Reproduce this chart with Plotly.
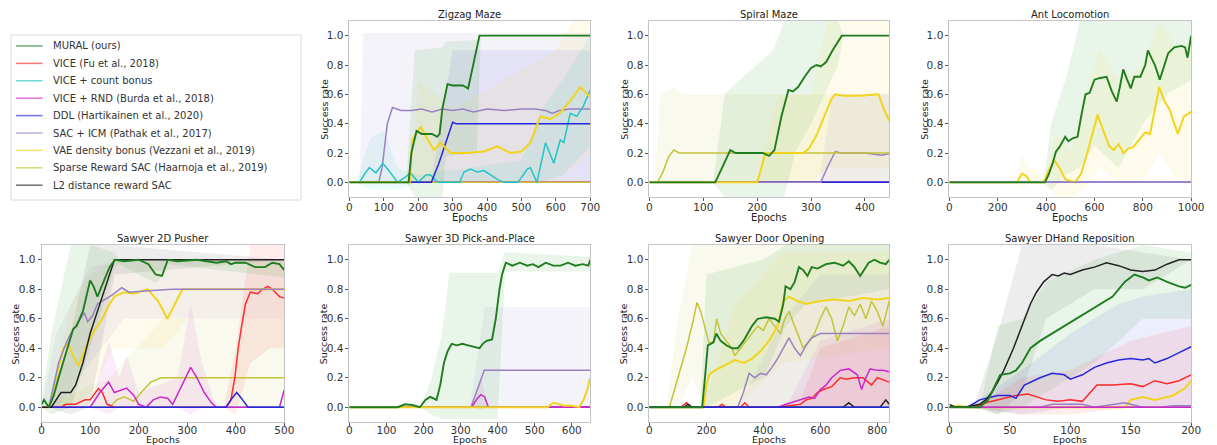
import plotly.graph_objects as go

# ---------------- series names / styles ----------------
series_names = ["MURAL (ours)", "VICE (Fu et al., 2018)", "VICE + count bonus",
                "VICE + RND (Burda et al., 2018)", "DDL (Hartikainen et al., 2020)",
                "SAC + ICM (Pathak et al., 2017)", "VAE density bonus (Vezzani et al., 2019)",
                "Sparse Reward SAC (Haarnoja et al., 2019)", "L2 distance reward SAC"]
series_keys = ["mural", "vice", "count", "rnd", "ddl", "icm", "vae", "sparse", "l2"]
line_colors = {"mural": "#1e7d1e", "vice": "#ff2a2a", "count": "#22c4c4", "rnd": "#cc26cc",
               "ddl": "#2626dd", "icm": "#9a80c2", "vae": "#f2d41c", "sparse": "#c4c43a",
               "l2": "#222222"}
band_colors = {"mural": "#2ca02c", "vice": "#ff4040", "count": "#30d0d0", "rnd": "#d040d0",
               "ddl": "#5050e0", "icm": "#a08cd0", "vae": "#f5dc40", "sparse": "#c8c850",
               "l2": "#505050"}
line_widths = {"mural": 1.9, "vae": 2.0}

panel_titles = ["Zigzag Maze", "Spiral Maze", "Ant Locomotion", "Sawyer 2D Pusher",
                "Sawyer 3D Pick-and-Place", "Sawyer Door Opening", "Sawyer DHand Reposition"]
x_ticks = [[0, 100, 200, 300, 400, 500, 600, 700], [0, 100, 200, 300, 400],
           [0, 200, 400, 600, 800, 1000], [0, 100, 200, 300, 400, 500],
           [0, 100, 200, 300, 400, 500, 600], [0, 200, 400, 600, 800], [0, 50, 100, 150, 200]]
x_max = [700, 445, 1000, 500, 650, 842, 200]
y_ticks = [0.0, 0.2, 0.4, 0.6, 0.8, 1.0]
x_label = "Epochs"
y_label = "Success rate"

# ---------------- Zigzag Maze ----------------
zz_vice_x = [0, 700]; zz_vice_y = [0, 0]
zz_rnd_x = [0, 700]; zz_rnd_y = [0, 0]
zz_count_x = [0, 29, 45, 58, 77, 97, 116, 140, 159, 178, 200, 222, 236, 256, 320, 333, 352, 372, 391,
              430, 449, 490, 517, 526, 545, 570, 594, 613, 623, 642, 661, 680, 700]
zz_count_y = [0, 0, 0.06, 0.1, 0.064, 0.13, 0.075, 0.0, 0.03, 0.064, 0.0, 0.05, 0.05, 0.0, 0.0, 0.07,
              0.09, 0.07, 0.08, 0.02, 0.0, 0.0, 0.09, 0.1, 0.0, 0.27, 0.13, 0.29, 0.27, 0.47, 0.45, 0.52, 0.63]
zz_ddl_x = [0, 238, 260, 280, 300, 310, 700]; zz_ddl_y = [0, 0, 0.13, 0.27, 0.41, 0.40, 0.40]
zz_icm_x = [0, 85, 95, 110, 125, 135, 150, 180, 210, 240, 270, 300, 330, 360, 400, 450, 500, 540, 570,
            590, 610, 640, 700]
zz_icm_y = [0, 0, 0.1, 0.4, 0.51, 0.50, 0.49, 0.49, 0.50, 0.48, 0.50, 0.49, 0.50, 0.48, 0.50, 0.49,
            0.50, 0.50, 0.49, 0.47, 0.49, 0.50, 0.50]
zz_vae_x = [0, 175, 183, 207, 225, 246, 265, 294, 340, 391, 430, 468, 500, 526, 555, 584, 610, 640, 671, 700]
zz_vae_y = [0, 0, 0.29, 0.38, 0.3, 0.22, 0.27, 0.2, 0.2, 0.21, 0.245, 0.2, 0.21, 0.27, 0.45, 0.43, 0.47,
            0.55, 0.65, 0.58]
zz_sparse_x = [0, 700]; zz_sparse_y = [0, 0]
zz_mural_x = [0, 172, 180, 195, 210, 240, 255, 262, 270, 285, 300, 330, 345, 355, 378, 700]
zz_mural_y = [0, 0, 0.2, 0.35, 0.33, 0.33, 0.31, 0.33, 0.5, 0.67, 0.66, 0.66, 0.64, 0.75, 1.0, 1.0]
# bands
zz_icm_bx = [0, 30, 40, 700]; zz_icm_lo = [0, 0, 0, 0]; zz_icm_hi = [0, 0, 1.02, 1.02]
zz_mural_bx = [165, 190, 270, 280, 370, 382, 700]
zz_mural_lo = [0, -0.1, -0.1, 0.18, 0.2, 1.0, 1.0]; zz_mural_hi = [0, 0.9, 0.92, 0.96, 0.97, 1.0, 1.0]
zz_ddl_bx = [238, 300, 700]; zz_ddl_lo = [0, 0, 0]; zz_ddl_hi = [0, 0.9, 0.9]
zz_vae_bx = [178, 200, 300, 600, 650, 700]
zz_vae_lo = [0, 0, 0, 0, 0.1, 0.2]; zz_vae_hi = [0, 0.7, 0.5, 0.9, 1.1, 1.1]
zz_count_bx = [20, 60, 100, 140, 200, 500, 560, 620, 700]
zz_count_lo = [0, -0.05, -0.05, -0.05, 0, 0, 0, 0.05, 0.25]
zz_count_hi = [0, 0.3, 0.35, 0.1, 0.05, 0.15, 0.5, 0.7, 1.0]

# ---------------- Spiral Maze ----------------
sp_vice_x = [0, 445]; sp_vice_y = [0, 0]
sp_count_x = [0, 445]; sp_count_y = [0, 0]
sp_rnd_x = [0, 445]; sp_rnd_y = [0, 0]
sp_ddl_x = [0, 445]; sp_ddl_y = [0, 0]
sp_icm_x = [0, 318, 330, 345, 355, 400, 430, 445]; sp_icm_y = [0, 0, 0.1, 0.21, 0.2, 0.2, 0.185, 0.195]
sp_sparse_x = [0, 15, 25, 35, 45, 55, 445]; sp_sparse_y = [0, 0, 0.07, 0.17, 0.22, 0.2, 0.2]
sp_vae_x = [0, 200, 208, 215, 285, 296, 310, 325, 338, 345, 360, 390, 425, 435, 445]
sp_vae_y = [0, 0, 0.1, 0.2, 0.2, 0.23, 0.32, 0.46, 0.57, 0.6, 0.59, 0.59, 0.6, 0.5, 0.42]
sp_mural_x = [0, 122, 135, 150, 160, 210, 222, 232, 245, 258, 266, 276, 288, 300, 310, 318, 328, 340, 357, 445]
sp_mural_y = [0, 0, 0.1, 0.22, 0.2, 0.2, 0.18, 0.22, 0.45, 0.63, 0.62, 0.65, 0.72, 0.78, 0.8, 0.79, 0.82,
              0.9, 1.0, 1.0]
sp_sparse_bx = [10, 20, 45, 60, 445]; sp_sparse_lo = [0, 0, 0, 0, 0]; sp_sparse_hi = [0, 0.6, 0.65, 0.6, 0.6]
sp_mural_bx = [118, 140, 153, 230, 250, 270, 300, 350, 360, 445]
sp_mural_lo = [0, -0.1, -0.1, -0.1, -0.1, 0.2, 0.4, 0.8, 1.0, 1.0]
sp_mural_hi = [0, 0.6, 0.65, 0.9, 1.1, 1.1, 1.1, 1.1, 1.0, 1.0]
sp_vae_bx = [198, 240, 300, 330, 445]; sp_vae_lo = [0, 0, 0, 0.1, 0.1]; sp_vae_hi = [0, 0.6, 0.6, 1.1, 1.1]
sp_icm_bx = [315, 340, 445]; sp_icm_lo = [0, 0, 0]; sp_icm_hi = [0, 0.6, 0.6]

# ---------------- Ant Locomotion ----------------
an_ddl_x = [0, 1000]; an_ddl_y = [0, 0]
an_icm_x = [0, 1000]; an_icm_y = [0, 0]
an_vae_x = [0, 280, 300, 320, 335, 390, 410, 434, 455, 480, 520, 545, 570, 595, 613, 635, 660, 680, 700,
            720, 740, 760, 790, 810, 830, 850, 868, 890, 910, 930, 945, 970, 1000]
an_vae_y = [0, 0, 0.06, 0.04, 0, 0, 0.08, 0.15, 0.1, 0.02, 0, 0.06, 0.2, 0.35, 0.46, 0.36, 0.25, 0.22,
            0.26, 0.2, 0.23, 0.24, 0.3, 0.34, 0.33, 0.5, 0.65, 0.55, 0.5, 0.4, 0.33, 0.45, 0.48]
an_mural_x = [0, 395, 410, 425, 441, 455, 479, 492, 510, 530, 545, 563, 580, 600, 620, 650, 672, 692, 705,
              719, 735, 750, 765, 790, 810, 821, 835, 850, 870, 885, 905, 930, 960, 975, 985, 1000]
an_mural_y = [0, 0, 0.05, 0.12, 0.21, 0.24, 0.31, 0.28, 0.3, 0.31, 0.45, 0.6, 0.61, 0.7, 0.71, 0.72, 0.62,
              0.55, 0.65, 0.77, 0.7, 0.64, 0.72, 0.72, 0.8, 0.9, 0.85, 0.8, 0.7, 0.78, 0.88, 0.92, 0.93,
              0.92, 0.85, 1.0]
an_mural_bx = [390, 420, 480, 540, 600, 700, 800, 900, 1000]
an_mural_lo = [0, -0.05, 0.05, 0.1, 0.25, 0.1, 0.4, 0.6, 0.7]
an_mural_hi = [0, 0.4, 0.7, 1.1, 1.1, 1.1, 1.1, 1.1, 1.1]
an_vae_bx = [270, 300, 330, 400, 440, 500, 560, 620, 700, 800, 870, 950, 1000]
an_vae_lo = [0, -0.05, 0, 0, -0.1, -0.1, -0.05, 0.1, 0, 0, 0.2, 0, 0]
an_vae_hi = [0, 0.18, 0.1, 0.05, 0.35, 0.2, 0.6, 0.9, 0.7, 0.8, 1.1, 0.9, 1.0]

# ---------------- Sawyer 2D Pusher ----------------
pu_count_x = [0, 500]; pu_count_y = [0, 0]
pu_sparse_x = [0, 140, 155, 170, 190, 205, 225, 246, 270, 500]
pu_sparse_y = [0, 0, 0.05, 0.07, 0.04, 0.1, 0.17, 0.2, 0.2, 0.2]
pu_vice_x = [0, 40, 50, 70, 90, 100, 117, 125, 135, 150, 380, 390, 398, 405, 412, 420, 430, 445, 455, 466,
             475, 490, 500]
pu_vice_y = [0, 0, 0.02, 0.02, 0.05, 0.05, 0.126, 0.1, 0.02, 0, 0, 0.05, 0.2, 0.4, 0.55, 0.7, 0.78, 0.77,
             0.8, 0.82, 0.8, 0.75, 0.74]
pu_rnd_x = [0, 100, 120, 138, 150, 165, 175, 190, 200, 215, 230, 245, 260, 270, 290, 307, 320, 335, 350,
            360, 490, 500]
pu_rnd_y = [0, 0, 0.1, 0.17, 0.1, 0.12, 0.13, 0.08, 0.02, 0.0, 0.05, 0.07, 0.06, 0.02, 0.15, 0.27, 0.2,
            0.1, 0.03, 0, 0, 0.12]
pu_ddl_x = [0, 380, 392, 402, 412, 425, 500]; pu_ddl_y = [0, 0, 0.06, 0.1, 0.06, 0, 0]
pu_vae_x = [0, 15, 30, 45, 55, 65, 76, 90, 105, 115, 125, 140, 150, 170, 190, 218, 240, 259, 275, 290, 500]
pu_vae_y = [0, 0, 0.2, 0.4, 0.43, 0.35, 0.28, 0.4, 0.5, 0.55, 0.6, 0.7, 0.75, 0.78, 0.77, 0.8, 0.72, 0.6,
            0.7, 0.8, 0.8]
pu_icm_x = [0, 15, 25, 35, 50, 60, 72, 88, 95, 105, 115, 130, 145, 165, 180, 220, 270, 500]
pu_icm_y = [0, 0, 0.15, 0.3, 0.43, 0.5, 0.56, 0.64, 0.58, 0.62, 0.7, 0.73, 0.76, 0.81, 0.78, 0.79, 0.8, 0.8]
pu_l2_x = [0, 20, 30, 40, 60, 70, 85, 100, 115, 135, 150, 500]
pu_l2_y = [0, 0, 0.05, 0.1, 0.1, 0.15, 0.3, 0.5, 0.65, 0.85, 1.0, 1.0]
pu_mural_x = [0, 5, 15, 25, 35, 49, 58, 65, 72, 85, 100, 107, 115, 128, 140, 151, 170, 200, 220, 235, 248,
              260, 280, 320, 360, 380, 390, 400, 420, 440, 460, 475, 490, 500]
pu_mural_y = [0.02, 0.05, 0, 0.08, 0.2, 0.35, 0.45, 0.53, 0.55, 0.65, 0.86, 0.82, 0.75, 0.85, 0.95, 1.0,
              0.99, 1.0, 0.97, 0.9, 0.89, 1.0, 0.99, 1.0, 0.98, 0.99, 0.97, 0.98, 0.98, 0.95, 0.95, 0.98,
              0.97, 0.93]
pu_sparse_bx = [0, 140, 250, 500]; pu_sparse_lo = [0, 0, 0, 0]; pu_sparse_hi = [0, 0.2, 0.6, 0.6]
pu_vae_bx = [15, 60, 100, 150, 250, 300, 500]
pu_vae_lo = [0, 0, 0.1, 0.4, 0.4, 0.6, 0.6]; pu_vae_hi = [0, 0.7, 0.9, 1.0, 1.0, 1.0, 1.0]
pu_icm_bx = [0, 30, 100, 170, 500]; pu_icm_lo = [0, 0, 0.3, 0.6, 0.6]; pu_icm_hi = [0, 0.5, 0.95, 1.0, 1.0]
pu_rnd_bx = [100, 138, 160, 175, 200, 280, 307, 330, 360]
pu_rnd_lo = [0, -0.05, 0, 0, 0, 0, -0.05, 0, 0]; pu_rnd_hi = [0, 0.45, 0.2, 0.35, 0.1, 0.2, 0.7, 0.3, 0]
pu_vice_bx = [375, 400, 430, 470, 500]; pu_vice_lo = [0, -0.05, 0.3, 0.4, 0.4]; pu_vice_hi = [0, 0.4, 1.1, 1.1, 1.1]
pu_l2_bx = [15, 60, 100, 150, 500]; pu_l2_lo = [0, -0.05, 0, 0.9, 1.0]; pu_l2_hi = [0, 0.5, 1.1, 1.1, 1.0]
pu_mural_bx = [0, 20, 60, 100, 150, 160, 230, 240, 260, 500]
pu_mural_lo = [0, -0.05, 0, 0.4, 0.95, 0.97, 0.85, 0.85, 0.97, 0.88]
pu_mural_hi = [0.05, 0.5, 1.1, 1.1, 1.05, 1.0, 1.0, 1.0, 1.0, 1.0]

# ---------------- Sawyer 3D Pick-and-Place ----------------
pp_vice_x = [0, 650]; pp_vice_y = [0, 0]
pp_ddl_x = [0, 650]; pp_ddl_y = [0, 0]
pp_icm_x = [0, 328, 364, 650]; pp_icm_y = [0, 0, 0.25, 0.25]
pp_rnd_x = [0, 330, 345, 355, 365, 375, 650]; pp_rnd_y = [0, 0, 0.06, 0.085, 0.07, 0, 0]
pp_vae_x = [0, 535, 550, 565, 580, 600, 620, 632, 642, 650]
pp_vae_y = [0, 0, 0.03, 0.02, 0.01, 0.01, 0, 0.05, 0.12, 0.2]
pp_mural_x = [0, 130, 150, 170, 190, 205, 218, 235, 245, 255, 265, 276, 290, 305, 320, 340, 351, 360, 370,
              385, 395, 405, 412, 422, 440, 460, 480, 495, 510, 530, 550, 570, 590, 610, 630, 645, 650]
pp_mural_y = [0, 0, 0.02, 0.015, 0, 0.05, 0.07, 0.05, 0.15, 0.3, 0.38, 0.43, 0.42, 0.43, 0.42, 0.41, 0.4,
              0.43, 0.45, 0.46, 0.6, 0.8, 0.9, 0.98, 0.96, 0.98, 0.96, 0.97, 0.95, 0.98, 0.96, 0.96, 0.98,
              0.96, 0.97, 0.96, 1.0]
pp_icm_bx = [325, 365, 650]; pp_icm_lo = [0, 0, 0]; pp_icm_hi = [0, 0.68, 0.68]
pp_rnd_bx = [330, 355, 375]; pp_rnd_lo = [0, -0.02, 0]; pp_rnd_hi = [0, 0.2, 0]
pp_mural_bx = [190, 220, 250, 270, 400, 420, 650]
pp_mural_lo = [0, -0.05, -0.08, -0.08, -0.08, 0.92, 0.92]
pp_mural_hi = [0, 0.18, 0.5, 0.91, 0.91, 1.05, 1.02]

# ---------------- Sawyer Door Opening ----------------
do_count_x = [0, 842]; do_count_y = [0, 0]
do_sparse_x = [0, 70, 100, 130, 155, 167, 180, 200, 210, 225, 236, 250, 270, 290, 300, 320, 340, 360, 380,
               400, 420, 440, 460, 475, 490, 510, 540, 560, 580, 600, 620, 640, 660, 680, 700, 720, 740,
               760, 780, 800, 820, 842]
do_sparse_y = [0, 0, 0.2, 0.4, 0.6, 0.71, 0.65, 0.5, 0.43, 0.45, 0.6, 0.5, 0.45, 0.4, 0.35, 0.4, 0.45, 0.5,
               0.55, 0.52, 0.6, 0.55, 0.5, 0.6, 0.65, 0.55, 0.4, 0.45, 0.5, 0.6, 0.68, 0.6, 0.45, 0.55,
               0.68, 0.62, 0.7, 0.6, 0.72, 0.65, 0.55, 0.72]
do_vae_x = [0, 190, 200, 210, 230, 260, 300, 330, 360, 390, 420, 450, 470, 490, 520, 550, 600, 650, 700,
            750, 800, 842]
do_vae_y = [0, 0, 0.15, 0.22, 0.25, 0.28, 0.32, 0.3, 0.33, 0.38, 0.45, 0.55, 0.72, 0.75, 0.72, 0.7, 0.72,
            0.73, 0.72, 0.74, 0.73, 0.74]
do_icm_x = [0, 310, 330, 350, 370, 390, 410, 430, 450, 470, 490, 510, 530, 550, 570, 600, 842]
do_icm_y = [0, 0, 0.1, 0.23, 0.2, 0.23, 0.22, 0.27, 0.33, 0.4, 0.47, 0.4, 0.35, 0.42, 0.47, 0.5, 0.5]
do_vice_x = [0, 110, 130, 150, 240, 255, 270, 320, 335, 350, 450, 530, 550, 570, 590, 610, 640, 670, 690,
             720, 750, 780, 800, 830, 842]
do_vice_y = [0, 0, 0.03, 0, 0, 0.02, 0, 0, 0.03, 0, 0, 0.02, 0.05, 0.06, 0.1, 0.12, 0.14, 0.2, 0.19, 0.2,
             0.2, 0.15, 0.2, 0.18, 0.17]
do_rnd_x = [0, 450, 480, 530, 560, 580, 600, 620, 640, 670, 700, 730, 745, 760, 775, 800, 820, 842]
do_rnd_y = [0, 0, 0.02, 0.05, 0.07, 0.06, 0.12, 0.15, 0.2, 0.25, 0.26, 0.22, 0.12, 0.2, 0.26, 0.25, 0.25, 0.24]
do_ddl_x = [0, 842]; do_ddl_y = [0, 0]
do_l2_x = [0, 120, 135, 150, 680, 700, 720, 810, 830, 842]; do_l2_y = [0, 0, 0.02, 0, 0, 0.03, 0, 0, 0.05, 0.02]
do_mural_x = [0, 185, 195, 205, 215, 225, 235, 250, 270, 290, 310, 330, 345, 360, 380, 410, 440, 455, 470,
              478, 495, 510, 525, 540, 555, 570, 590, 620, 650, 680, 700, 720, 740, 755, 770, 790, 810,
              830, 842]
do_mural_y = [0, 0, 0.2, 0.42, 0.43, 0.44, 0.5, 0.45, 0.42, 0.4, 0.4, 0.45, 0.5, 0.55, 0.6, 0.61, 0.6,
              0.58, 0.7, 0.82, 0.8, 0.85, 0.95, 0.93, 0.89, 0.95, 0.94, 0.97, 0.98, 0.96, 0.99, 0.95, 0.89,
              0.94, 0.98, 1.0, 0.98, 0.97, 1.0]
do_sparse_bx = [60, 100, 150, 200, 842]; do_sparse_lo = [0, 0, 0.2, 0, 0]; do_sparse_hi = [0, 0.6, 1.1, 1.1, 1.1]
do_mural_bx = [180, 200, 300, 400, 480, 550, 842]
do_mural_lo = [0, 0.0, 0.1, 0.2, 0.55, 0.7, 0.8]; do_mural_hi = [0, 0.9, 0.95, 1.0, 1.1, 1.1, 1.1]
do_vae_bx = [190, 300, 470, 842]; do_vae_lo = [0, 0, 0.3, 0.4]; do_vae_hi = [0, 0.7, 1.05, 1.05]
do_icm_bx = [310, 470, 600, 842]; do_icm_lo = [0, 0, 0, 0]; do_icm_hi = [0, 0.6, 0.9, 0.9]
do_vice_bx = [520, 600, 842]; do_vice_lo = [0, 0, 0]; do_vice_hi = [0, 0.4, 0.55]
do_rnd_bx = [480, 600, 842]; do_rnd_lo = [0, 0, 0]; do_rnd_hi = [0, 0.45, 0.6]

# ---------------- Sawyer DHand Reposition ----------------
dh_count_x = [0, 200]; dh_count_y = [0, 0]
dh_sparse_x = [0, 200]; dh_sparse_y = [0, 0]
dh_icm_x = [0, 75, 85, 110, 120, 135, 145, 160, 175, 185, 200]
dh_icm_y = [0, 0, 0.02, 0.02, 0.0, 0.02, 0.03, 0, 0, 0.01, 0.01]
dh_rnd_x = [0, 200]; dh_rnd_y = [0, 0]
dh_vae_x = [0, 8, 15, 145, 150, 160, 170, 185, 195, 200]
dh_vae_y = [0, 0.01, 0, 0, 0.05, 0.07, 0.05, 0.08, 0.13, 0.18]
dh_vice_x = [0, 20, 30, 40, 55, 65, 72, 80, 90, 100, 110, 117, 122, 135, 150, 160, 170, 180, 190, 200]
dh_vice_y = [0, 0, 0.03, 0.05, 0.08, 0.09, 0.07, 0.05, 0.04, 0.05, 0.04, 0.1, 0.15, 0.15, 0.16, 0.14,
             0.18, 0.16, 0.18, 0.22]
dh_ddl_x = [0, 15, 25, 30, 40, 50, 55, 62, 75, 85, 95, 100, 110, 120, 130, 140, 150, 160, 165, 170, 180,
            190, 200]
dh_ddl_y = [0, 0, 0.05, 0.06, 0.08, 0.08, 0.06, 0.15, 0.2, 0.23, 0.22, 0.19, 0.22, 0.27, 0.3, 0.32, 0.33,
            0.32, 0.33, 0.3, 0.33, 0.37, 0.41]
dh_l2_x = [0, 5, 12, 20, 25, 30, 35, 40, 45, 53, 60, 67, 72, 78, 85, 90, 95, 100, 110, 120, 130, 140, 150,
           160, 170, 180, 190, 200]
dh_l2_y = [0.02, 0.0, 0.0, 0.01, 0.02, 0.05, 0.1, 0.17, 0.25, 0.4, 0.55, 0.7, 0.78, 0.85, 0.9, 0.89, 0.91,
           0.9, 0.93, 0.95, 0.98, 0.96, 0.93, 0.92, 0.93, 0.97, 1.0, 1.0]
dh_mural_x = [0, 25, 32, 38, 42, 50, 55, 60, 67, 75, 85, 95, 105, 115, 125, 135, 145, 153, 160, 165, 172,
              180, 190, 195, 200]
dh_mural_y = [0, 0, 0.05, 0.15, 0.22, 0.23, 0.25, 0.3, 0.4, 0.45, 0.5, 0.55, 0.6, 0.65, 0.7, 0.75, 0.85,
              0.9, 0.88, 0.86, 0.88, 0.85, 0.82, 0.81, 0.83]
dh_l2_bx = [20, 40, 60, 80, 120, 160, 200]
dh_l2_lo = [0, -0.05, 0.1, 0.6, 0.8, 0.8, 1.0]; dh_l2_hi = [0, 0.5, 1.1, 1.1, 1.1, 1.05, 1.0]
dh_mural_bx = [25, 40, 60, 80, 120, 160, 200]
dh_mural_lo = [0, -0.05, 0, 0.1, 0.3, 0.6, 0.6]; dh_mural_hi = [0, 0.55, 0.6, 0.85, 1.0, 1.1, 1.05]
dh_ddl_bx = [15, 60, 100, 140, 160, 200]
dh_ddl_lo = [0, -0.05, 0, 0, 0, 0]; dh_ddl_hi = [0, 0.25, 0.5, 0.7, 0.75, 0.8]
dh_vice_bx = [20, 60, 100, 150, 200]
dh_vice_lo = [0, -0.05, -0.05, 0, 0]; dh_vice_hi = [0, 0.2, 0.25, 0.45, 0.55]

# ---------------- assemble (draw order per panel) ----------------
panels = [
    dict(bands=[("icm", zz_icm_bx, zz_icm_lo, zz_icm_hi), ("ddl", zz_ddl_bx, zz_ddl_lo, zz_ddl_hi),
                ("vae", zz_vae_bx, zz_vae_lo, zz_vae_hi), ("count", zz_count_bx, zz_count_lo, zz_count_hi),
                ("mural", zz_mural_bx, zz_mural_lo, zz_mural_hi)],
         lines=[("vice", zz_vice_x, zz_vice_y), ("rnd", zz_rnd_x, zz_rnd_y), ("icm", zz_icm_x, zz_icm_y),
                ("sparse", zz_sparse_x, zz_sparse_y), ("count", zz_count_x, zz_count_y),
                ("ddl", zz_ddl_x, zz_ddl_y), ("vae", zz_vae_x, zz_vae_y), ("mural", zz_mural_x, zz_mural_y)]),
    dict(bands=[("sparse", sp_sparse_bx, sp_sparse_lo, sp_sparse_hi), ("mural", sp_mural_bx, sp_mural_lo, sp_mural_hi),
                ("vae", sp_vae_bx, sp_vae_lo, sp_vae_hi), ("icm", sp_icm_bx, sp_icm_lo, sp_icm_hi)],
         lines=[("vice", sp_vice_x, sp_vice_y), ("count", sp_count_x, sp_count_y), ("rnd", sp_rnd_x, sp_rnd_y),
                ("ddl", sp_ddl_x, sp_ddl_y), ("icm", sp_icm_x, sp_icm_y), ("sparse", sp_sparse_x, sp_sparse_y),
                ("vae", sp_vae_x, sp_vae_y), ("mural", sp_mural_x, sp_mural_y)]),
    dict(bands=[("mural", an_mural_bx, an_mural_lo, an_mural_hi), ("vae", an_vae_bx, an_vae_lo, an_vae_hi)],
         lines=[("ddl", an_ddl_x, an_ddl_y), ("vae", an_vae_x, an_vae_y), ("icm", an_icm_x, an_icm_y),
                ("mural", an_mural_x, an_mural_y)]),
    dict(bands=[("sparse", pu_sparse_bx, pu_sparse_lo, pu_sparse_hi), ("vae", pu_vae_bx, pu_vae_lo, pu_vae_hi),
                ("icm", pu_icm_bx, pu_icm_lo, pu_icm_hi), ("rnd", pu_rnd_bx, pu_rnd_lo, pu_rnd_hi),
                ("vice", pu_vice_bx, pu_vice_lo, pu_vice_hi), ("l2", pu_l2_bx, pu_l2_lo, pu_l2_hi),
                ("mural", pu_mural_bx, pu_mural_lo, pu_mural_hi)],
         lines=[("count", pu_count_x, pu_count_y), ("sparse", pu_sparse_x, pu_sparse_y), ("vice", pu_vice_x, pu_vice_y),
                ("rnd", pu_rnd_x, pu_rnd_y), ("ddl", pu_ddl_x, pu_ddl_y), ("vae", pu_vae_x, pu_vae_y),
                ("icm", pu_icm_x, pu_icm_y), ("l2", pu_l2_x, pu_l2_y), ("mural", pu_mural_x, pu_mural_y)]),
    dict(bands=[("icm", pp_icm_bx, pp_icm_lo, pp_icm_hi), ("rnd", pp_rnd_bx, pp_rnd_lo, pp_rnd_hi),
                ("mural", pp_mural_bx, pp_mural_lo, pp_mural_hi)],
         lines=[("vice", pp_vice_x, pp_vice_y), ("ddl", pp_ddl_x, pp_ddl_y), ("icm", pp_icm_x, pp_icm_y),
                ("rnd", pp_rnd_x, pp_rnd_y), ("vae", pp_vae_x, pp_vae_y), ("mural", pp_mural_x, pp_mural_y)]),
    dict(bands=[("sparse", do_sparse_bx, do_sparse_lo, do_sparse_hi), ("mural", do_mural_bx, do_mural_lo, do_mural_hi),
                ("vae", do_vae_bx, do_vae_lo, do_vae_hi), ("icm", do_icm_bx, do_icm_lo, do_icm_hi),
                ("vice", do_vice_bx, do_vice_lo, do_vice_hi), ("rnd", do_rnd_bx, do_rnd_lo, do_rnd_hi)],
         lines=[("count", do_count_x, do_count_y), ("sparse", do_sparse_x, do_sparse_y), ("vae", do_vae_x, do_vae_y),
                ("icm", do_icm_x, do_icm_y), ("vice", do_vice_x, do_vice_y), ("rnd", do_rnd_x, do_rnd_y),
                ("l2", do_l2_x, do_l2_y), ("ddl", do_ddl_x, do_ddl_y), ("mural", do_mural_x, do_mural_y)]),
    dict(bands=[("l2", dh_l2_bx, dh_l2_lo, dh_l2_hi), ("mural", dh_mural_bx, dh_mural_lo, dh_mural_hi),
                ("ddl", dh_ddl_bx, dh_ddl_lo, dh_ddl_hi), ("vice", dh_vice_bx, dh_vice_lo, dh_vice_hi)],
         lines=[("count", dh_count_x, dh_count_y), ("sparse", dh_sparse_x, dh_sparse_y), ("vae", dh_vae_x, dh_vae_y),
                ("icm", dh_icm_x, dh_icm_y), ("vice", dh_vice_x, dh_vice_y), ("rnd", dh_rnd_x, dh_rnd_y),
                ("ddl", dh_ddl_x, dh_ddl_y), ("l2", dh_l2_x, dh_l2_y), ("mural", dh_mural_x, dh_mural_y)]),
]

# ---------------- layout geometry (page pixels) ----------------
PAGE_W, PAGE_H = 1217, 445
OFF = 8                       # default page body margin
W, H = PAGE_W - OFF, PAGE_H - OFF
col_px = [(39, 285), (351, 595), (655, 898), (959, 1204)]
row_px = [(21, 197), (245, 422)]
panel_cell = [(0, 1), (0, 2), (0, 3), (1, 0), (1, 1), (1, 2), (1, 3)]
FONT = "DejaVu Sans"


def px_x(v):
    return (v - OFF) / W


def px_y(v):
    return 1 - (v - OFF) / H


def rgba(hexc, a):
    h = hexc.lstrip("#")
    return "rgba(%d,%d,%d,%.3f)" % (int(h[0:2], 16), int(h[2:4], 16), int(h[4:6], 16), a)


fig = go.Figure()
layout = dict(width=W, height=H, margin=dict(l=0, r=0, t=0, b=0), paper_bgcolor="white",
              plot_bgcolor="white", showlegend=False, font=dict(family=FONT, color="#333"))
annotations = []
shapes = []

for i, p in enumerate(panels):
    r, c = panel_cell[i]
    xa = "x%d" % (i + 1) if i else "x"
    ya = "y%d" % (i + 1) if i else "y"
    for key, bx, lo, hi in p["bands"]:
        fig.add_trace(go.Scatter(x=list(bx) + list(bx)[::-1], y=list(lo) + list(hi)[::-1],
                                 fill="toself", fillcolor=rgba(band_colors[key], 0.10),
                                 line=dict(width=0), mode="lines", hoverinfo="skip",
                                 xaxis=xa, yaxis=ya))
    for key, lx, ly in p["lines"]:
        fig.add_trace(go.Scatter(x=lx, y=ly, mode="lines", name=series_names[series_keys.index(key)],
                                 line=dict(color=line_colors[key], width=line_widths.get(key, 1.5)),
                                 xaxis=xa, yaxis=ya))
    x0, x1 = col_px[c]
    t0, t1 = row_px[r]
    axcommon = dict(showgrid=False, zeroline=False, showline=True, mirror=True, linecolor="#c4c4c4",
                    linewidth=1, ticks="outside", ticklen=3, tickcolor="#555", tickwidth=1,
                    tickfont=dict(family=FONT, size=10.5, color="#333"))
    layout["xaxis%d" % (i + 1) if i else "xaxis"] = dict(
        domain=[px_x(x0), px_x(x1)], anchor=ya, range=[0, x_max[i]], tickvals=x_ticks[i],
        ticklabelstandoff=(-3 if r == 0 else -5), **axcommon)
    layout["yaxis%d" % (i + 1) if i else "yaxis"] = dict(
        domain=[px_y(t1), px_y(t0)], anchor=xa, range=[-0.1, 1.1], tickvals=y_ticks,
        tickformat=".1f", **axcommon)
    cx = px_x((x0 + x1) / 2)
    title_y = 14.5 if r == 0 else 239
    annotations.append(dict(text=panel_titles[i], x=cx, y=px_y(title_y), xref="paper", yref="paper",
                            showarrow=False, xanchor="center", yanchor="middle",
                            font=dict(family=FONT, size=10, color="#222")))
    lab_y = 217 if r == 0 else 439
    annotations.append(dict(text=x_label, x=cx, y=px_y(lab_y), xref="paper", yref="paper",
                            showarrow=False, xanchor="center", yanchor="middle",
                            font=dict(family=FONT, size=9.5 if r else 10, color="#222")))
    annotations.append(dict(text=y_label, x=px_x(x0 - 26), y=px_y((t0 + t1) / 2), xref="paper",
                            yref="paper", showarrow=False, textangle=-90, xanchor="center",
                            yanchor="middle", font=dict(family=FONT, size=9.5, color="#222")))

# ---------------- legend panel ----------------
shapes.append(dict(type="rect", xref="paper", yref="paper", x0=px_x(8), x1=px_x(302), y0=px_y(200),
                   y1=px_y(35), line=dict(color="#dcdcdc", width=1), fillcolor="white"))
for k, name in enumerate(series_names):
    yy = px_y(46 + k * 17.4)
    key = series_keys[k]
    shapes.append(dict(type="line", xref="paper", yref="paper", x0=px_x(13), x1=px_x(40), y0=yy, y1=yy,
                       line=dict(color=rgba(line_colors[key], 0.65), width=1.5)))
    annotations.append(dict(text=name, x=px_x(49), y=yy, xref="paper", yref="paper", showarrow=False,
                            xanchor="left", yanchor="middle", font=dict(family=FONT, size=10, color="#333")))

layout["annotations"] = annotations
layout["shapes"] = shapes
fig.update_layout(**layout)
fig.write_html("out.html")
